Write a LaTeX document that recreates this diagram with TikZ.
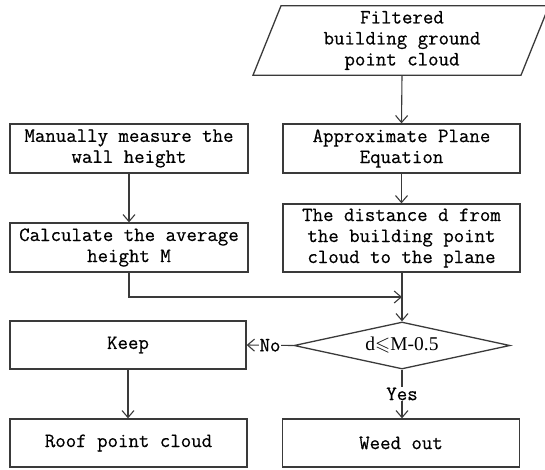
\documentclass[tikz,border=0pt]{standalone}
\usepackage{amssymb}
\usepackage{fontspec}
\newfontfamily\boxfont{Latin Modern Mono}[FakeBold=0.5]
\newfontfamily\condfont{Liberation Serif}
\usetikzlibrary{shapes.geometric,arrows.meta,calc}

\definecolor{edgegray}{HTML}{3A3A3A}

\begin{document}
\begin{tikzpicture}[x=1pt,y=-1pt,
  font=\boxfont\fontsize{20.3}{21}\selectfont,
  boxline/.style={draw=edgegray, line width=1.3pt},
  procbox/.style={boxline, rectangle, minimum width=237pt, minimum height=49pt,
    align=center, inner sep=0pt},
  decision/.style={boxline, diamond, aspect=4.6, minimum width=216pt,
    minimum height=47pt, inner sep=0pt},
  link/.style={draw=edgegray, line width=1.1pt},
  arr/.style={link, -{Straight Barb[length=7pt,width=12pt]}},
  edgelabel/.style={fill=white, inner sep=1pt}
]
\clip (0,0) rectangle (545,469);

% input data (parallelogram)
\node[minimum height=69pt, minimum width=240pt, align=center, inner sep=0pt] (src) at (402,40.5)
  {Filtered\\building ground\\point cloud};
\draw[boxline] ($(src.south)+(-149,0)$) -- ($(src.south)+(119,0)$)
  -- ($(src.north)+(147,0)$) -- ($(src.north)+(-121,0)$) -- cycle;

% right column
\node[procbox] (plane) at (401.5,148.5) {Approximate Plane\\Equation};
\node[procbox, minimum height=68pt] (dist) at (401.5,238) {The distance d from\\the building point\\cloud to the plane};

% left column
\node[procbox, minimum width=238pt] (manual) at (129,148.5) {Manually measure the\\wall height};
\node[procbox, minimum width=238pt] (avg) at (129,247.5) {Calculate the average\\height M};

% decision
\node[decision] (cond) at (402,345.5)
  {\condfont\fontsize{19.5}{21}\selectfont d$\leqslant$M-0.5};

% outcomes
\node[procbox, minimum width=236pt, minimum height=48pt] (keep) at (128,345) {Keep};
\node[procbox, minimum height=48pt] (roof) at (128.5,443) {Roof point cloud};
\node[procbox, minimum height=48pt] (weed) at (401,443) {Weed out};

% junction where the average height joins the main flow
\coordinate (join) at (402,297);

% connectors
\draw[arr] (src.south) -- (plane.north);
\draw[arr] (plane.south) -- (dist.north);
\draw[arr] (manual.south) -- (avg.north);
\draw[arr] (avg.south) |- (join);
\draw[arr] (dist.south -| cond.north) -- (cond.north);
\draw[arr] (cond.west) -- node[edgelabel] {No} (keep.east);
\draw[arr] (cond.south) -- node[edgelabel] {Yes} (weed.north -| cond.south);
\draw[arr] (keep.south) -- (roof.north -| keep.south);
\end{tikzpicture}
\end{document}
